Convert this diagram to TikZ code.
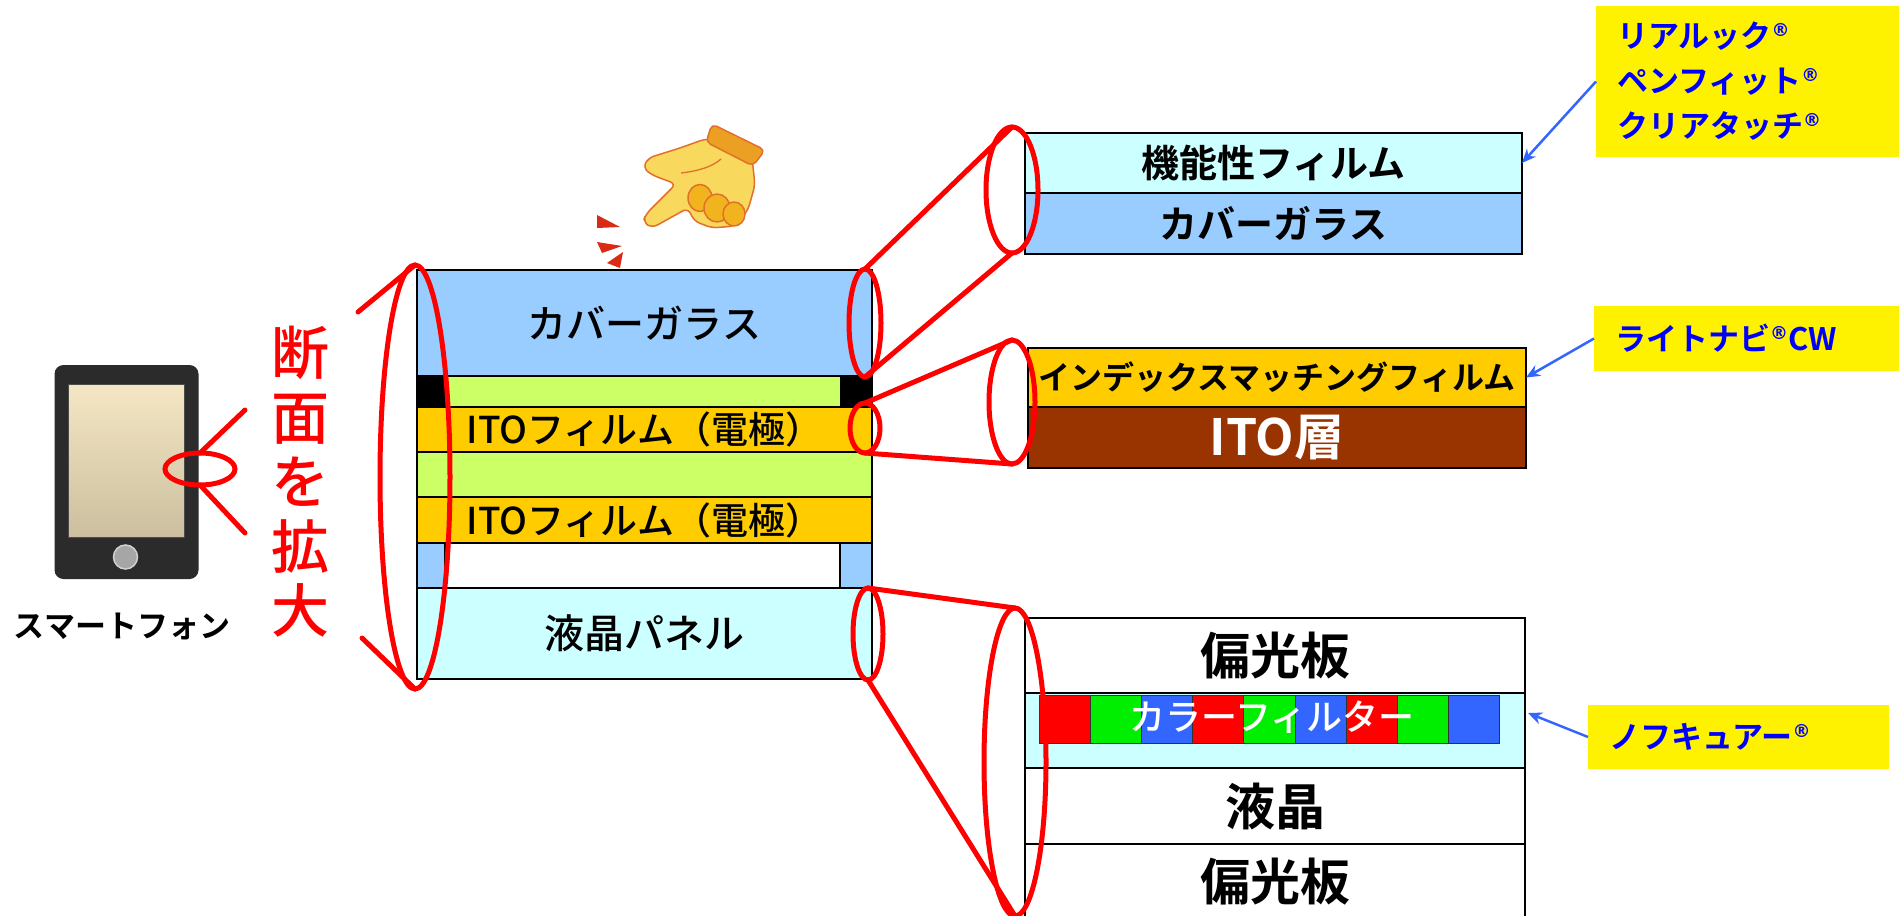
\documentclass[tikz,border=0pt]{standalone}
\usepackage{fontspec}
\setmainfont{Noto Sans CJK JP}[BoldFont={Noto Sans CJK JP Bold}]
\newfontfamily\jpmedium{Noto Sans CJK JP Medium}
\newfontfamily\marksans{DejaVu Sans}
\usetikzlibrary{shapes.geometric,arrows.meta}

\newcommand{\setfs}[1]{\fontsize{#1}{#1}\selectfont}
\newcommand{\regmark}{\raisebox{11pt}{\marksans\bfseries\fontsize{18}{18}\selectfont ®}}

\definecolor{glass}{HTML}{99CCFF}
\definecolor{film}{HTML}{CCFFFF}
\definecolor{ito}{HTML}{FFCC00}
\definecolor{glue}{HTML}{CCFF66}
\definecolor{itobrown}{HTML}{993300}
\definecolor{lensred}{HTML}{FF0000}
\definecolor{linkblue}{HTML}{3366FF}
\definecolor{labelblue}{HTML}{0000FF}
\definecolor{cfred}{HTML}{FF0000}
\definecolor{cfgreen}{HTML}{00EE00}
\definecolor{cfblue}{HTML}{3366FF}
\definecolor{phonebody}{HTML}{2B2B2B}
\definecolor{scrtop}{HTML}{F5E7C4}
\definecolor{scrbot}{HTML}{CBBF9F}
\definecolor{skin}{HTML}{F9D85E}
\definecolor{skinline}{HTML}{E0702A}
\definecolor{cuffcol}{HTML}{EBA024}
\definecolor{knuckle}{HTML}{F2B41E}
\definecolor{tapred}{HTML}{D92A14}

\tikzset{
  layer/.style={draw=black, line width=1.6pt, inner sep=0pt, outer sep=0pt},
  lens/.style={ellipse, draw=lensred, line width=5pt, inner sep=0pt, outer sep=0pt},
  cone/.style={draw=lensred, line width=5pt, line cap=round},
  tag/.style={fill=yellow, text=labelblue, inner sep=0pt, outer sep=0pt, align=left,
              font=\bfseries\fontsize{31}{45}\selectfont},
  pointer/.style={draw=linkblue, line width=2.5pt, -{Stealth[length=14pt,width=12pt]}},
  handpart/.style={draw=skinline, line width=1.5pt, line join=round},
}

\begin{document}
\begin{tikzpicture}[x=1pt, y=-1pt]
\useasboundingbox (0,0) rectangle (1899,916);
\fill[white] (0,0) rectangle (1899,916);

% ---------- smartphone ----------
\node[fill=phonebody, rounded corners=9pt, minimum width=144pt, minimum height=214pt, inner sep=0pt] (phone) at (126.5,472) {};
\node[draw=black!70, line width=0.8pt, top color=scrtop, bottom color=scrbot, minimum width=116pt, minimum height=153pt, inner sep=0pt] (screen) at (126,460.5) {};
\node[circle, fill=black!35, draw=black!18, line width=1.5pt, minimum size=24pt, inner sep=0pt] (homebtn) at (125.5,557) {};
\node[font=\bfseries\setfs{31}] (phonelabel) at (122,626) {スマートフォン};

% ---------- vertical caption ----------
\node[text=lensred, align=center, font=\jpmedium\fontsize{58}{64.5}\selectfont] (caption) at (300,482) {断\\面\\を\\拡\\大};

% ---------- touch panel stack ----------
\node[layer, fill=glass, minimum width=455pt, minimum height=106pt, font=\jpmedium\setfs{39}] (stackGlass) at (644.5,323) {カバーガラス};
\node[layer, fill=glue, minimum width=455pt, minimum height=31pt] (stackGlueA) at (644.5,391.5) {};
\node[fill=black, minimum width=29pt, minimum height=31pt, inner sep=0pt] (sealL) at (431.5,391.5) {};
\node[fill=black, minimum width=32pt, minimum height=31pt, inner sep=0pt] (sealR) at (856,391.5) {};
\node[layer, fill=ito, minimum width=455pt, minimum height=45pt, font=\jpmedium\setfs{37}] (stackItoA) at (644.5,429.5) {ITOフィルム（電極）};
\node[layer, fill=glue, minimum width=455pt, minimum height=45pt] (stackGlueB) at (644.5,474.5) {};
\node[layer, fill=ito, minimum width=455pt, minimum height=46pt, font=\jpmedium\setfs{37}] (stackItoB) at (644.5,520) {ITOフィルム（電極）};
\node[layer, fill=white, minimum width=455pt, minimum height=45pt] (stackGap) at (644.5,565.5) {};
\node[layer, fill=glass, minimum width=28pt, minimum height=45pt] (spacerL) at (431,565.5) {};
\node[layer, fill=glass, minimum width=32pt, minimum height=45pt] (spacerR) at (856,565.5) {};
\node[layer, fill=film, minimum width=455pt, minimum height=91pt, font=\jpmedium\setfs{40}] (stackLcd) at (644.5,633.5) {液晶パネル};

% ---------- enlarged cover glass ----------
\node[layer, fill=film, minimum width=497pt, minimum height=60pt, font=\bfseries\setfs{38}] (coverFilm) at (1273.5,163) {機能性フィルム};
\node[layer, fill=glass, minimum width=497pt, minimum height=61pt, font=\bfseries\setfs{38}] (coverGlass) at (1273.5,223.5) {カバーガラス};

% ---------- enlarged ITO film ----------
\node[layer, fill=ito, minimum width=498pt, minimum height=59pt, font=\bfseries\setfs{32}] (indexFilm) at (1277,377.5) {インデックスマッチングフィルム};
\node[layer, fill=itobrown, text=white, minimum width=498pt, minimum height=61pt, font=\bfseries\setfs{50}] (itoLayer) at (1277,437.5) {ITO層};

% ---------- enlarged LCD panel ----------
\node[layer, fill=white, minimum width=500pt, minimum height=75pt, font=\bfseries\setfs{50}] (polTop) at (1275,655.5) {偏光板};
\node[layer, fill=film, minimum width=500pt, minimum height=75pt] (cfLayer) at (1275,730.5) {};
\foreach \i/\c in {1/cfred,2/cfgreen,3/cfblue,4/cfred,5/cfgreen,6/cfblue,7/cfred,8/cfgreen,9/cfblue}
  \node[draw=black!80, line width=1pt, fill=\c, minimum width=51.2pt, minimum height=48pt, inner sep=0pt] (cf\i) at ({1039+51.2*(\i-0.5)},719) {};
\node[text=white, font=\jpmedium\setfs{36}] (cfText) at (1272,717) {カラーフィルター};
\node[layer, fill=white, minimum width=500pt, minimum height=76pt, font=\bfseries\setfs{50}] (lcLayer) at (1275,806) {液晶};
\node[layer, fill=white, minimum width=500pt, minimum height=76pt, font=\bfseries\setfs{50}] (polBottom) at (1275,882) {偏光板};

% ---------- pointing hand ----------
\draw[handpart, fill=skin, rounded corners=6pt]
  (648,158) -- (680,148) -- (705,139) -- (730,140) -- (752,158) -- (755,185)
  -- (748,210) -- (735,226) -- (712,228) -- (694,221) -- (688,208)
  -- (652,228) -- (643,222) -- (646,214) -- (676,184) -- (652,175) -- (643,168) -- cycle;
\draw[draw=skinline, line width=1.3pt] (681,173) .. controls (698,171) and (712,167) .. (721,159);
\draw[handpart, fill=knuckle] (700,198) ellipse [x radius=12, y radius=13.5];
\draw[handpart, fill=knuckle] (717,208) ellipse [x radius=13, y radius=14];
\draw[handpart, fill=knuckle] (734,214) ellipse [x radius=11, y radius=12];
\draw[handpart, fill=cuffcol, rounded corners=5pt] (712,124) -- (765,150) -- (753,166) -- (706,142) -- cycle;
% tap marks
\fill[tapred] (597,215) -- (620,227) -- (597,228) -- cycle;
\fill[tapred] (597,242) -- (622,246) -- (602,253) -- cycle;
\fill[tapred] (607,263) -- (623,252) -- (620,268) -- cycle;

% ---------- magnifier marks ----------
\node[lens, minimum width=70pt, minimum height=32pt] (peek) at (200,469) {};
\coordinate (peekUp) at (245,410);
\coordinate (peekDown) at (245,533);
\draw[cone] (peek.north) -- (peekUp);
\draw[cone] (peek.south) -- (peekDown);

\node[lens, minimum width=70pt, minimum height=424pt] (bigLens) at (415,477) {};
\coordinate (bigUp) at (358,312);
\coordinate (bigDown) at (362,638);
\draw[cone] (bigLens.north) -- (bigUp);
\draw[cone] (bigLens.south) -- (bigDown);

\node[lens, minimum width=32pt, minimum height=108pt] (spotGlass) at (865,323) {};
\node[lens, minimum width=52pt, minimum height=126pt] (zoomGlass) at (1012,190) {};
\draw[cone] (spotGlass.north) -- (zoomGlass.north);
\draw[cone] (spotGlass.south) -- (zoomGlass.south);

\node[lens, minimum width=30pt, minimum height=50pt] (spotIto) at (865,428) {};
\node[lens, minimum width=46pt, minimum height=124pt] (zoomIto) at (1012,402) {};
\draw[cone] (spotIto.north) -- (zoomIto.north);
\draw[cone] (spotIto.south) -- (zoomIto.south);

\node[lens, minimum width=30pt, minimum height=92pt] (spotLcd) at (868,634) {};
\node[lens, minimum width=62pt, minimum height=308pt] (zoomLcd) at (1015,762) {};
\draw[cone] (spotLcd.north) -- (zoomLcd.north);
\draw[cone] (spotLcd.south) -- (zoomLcd.south);

% ---------- product labels ----------
\node[tag, anchor=north west, minimum width=303pt, minimum height=151pt, text width=261pt] (tagFilm) at (1596,6)
  {\raisebox{-4pt}{リアルック\regmark}\\\raisebox{-4pt}{ペンフィット\regmark}\\\raisebox{-4pt}{クリアタッチ\regmark}};
\node[tag, anchor=west, minimum width=305pt, minimum height=65pt, text width=263pt] (tagIndex) at (1594,338.5)
  {ライトナビ\regmark{}CW};
\node[tag, anchor=west, minimum width=301pt, minimum height=64pt, text width=259pt] (tagCf) at (1588,737)
  {ノフキュアー\regmark};

\draw[pointer] (tagFilm.west) -- (coverFilm.east);
\draw[pointer] (tagIndex.west) -- (indexFilm.east);
\draw[pointer] (tagCf.west) -- ([xshift=3pt,yshift=17.5pt]cfLayer.east);
\end{tikzpicture}
\end{document}
